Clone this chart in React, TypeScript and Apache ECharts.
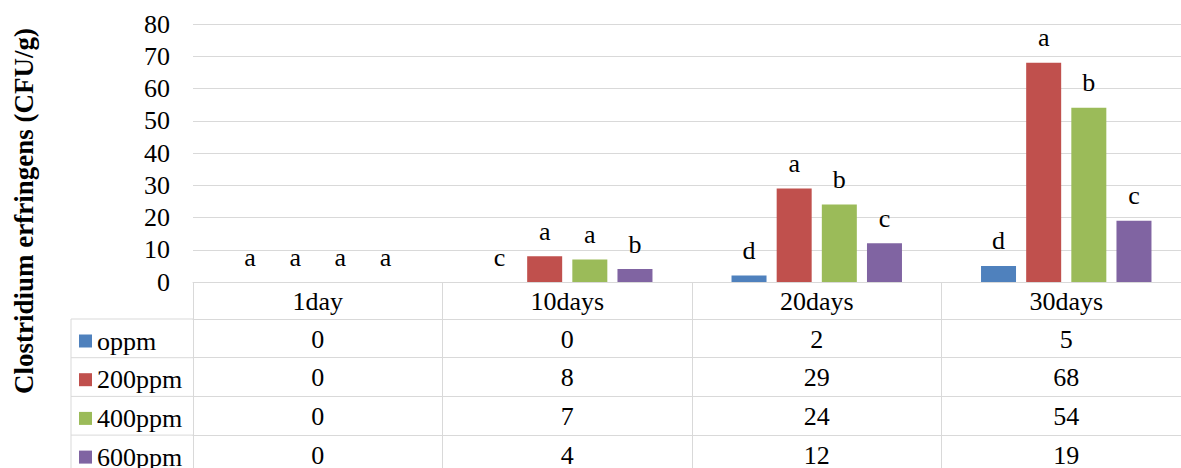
import React, { useEffect, useRef } from "react";
import * as echarts from "echarts";

const categories = ["1day", "10days", "20days", "30days"];
const seriesNames = ["oppm", "200ppm", "400ppm", "600ppm"];
const values0 = [0, 0, 2, 5];
const values200 = [0, 8, 29, 68];
const values400 = [0, 7, 24, 54];
const values600 = [0, 4, 12, 19];
const letters0 = ["a", "c", "d", "d"];
const letters200 = ["a", "a", "a", "a"];
const letters400 = ["a", "a", "b", "b"];
const letters600 = ["a", "b", "c", "c"];
const colors = ["#4f81bd", "#c0504d", "#9bbb59", "#8064a2"];

const allValues = [values0, values200, values400, values600];
const allLetters = [letters0, letters200, letters400, letters600];

const FONT = "Liberation Serif";
const FS = 26;
const GRID_COLOR = "#d9d9d9";
const AXIS_Y = 282;
const HEADER_H = 37;
const ROW_H = 38.7;

export default function App() {
  const ref = useRef<HTMLDivElement>(null);
  useEffect(() => {
    document.body.style.margin = "0";
    const chart = echarts.init(ref.current!, null, { renderer: "svg" });

    const rowAxes = allValues.map((vals, i) => ({
      type: "category",
      data: categories,
      gridIndex: 0,
      position: "bottom",
      offset: HEADER_H + ROW_H * i,
      axisLine: { show: true, lineStyle: { color: GRID_COLOR, width: 1 } },
      axisTick: { show: true, interval: 0, length: ROW_H, lineStyle: { color: GRID_COLOR, width: 1 } },
      axisLabel: {
        interval: 0,
        margin: 10,
        fontSize: FS,
        lineHeight: 20,
        color: "#000",
        fontFamily: FONT,
        formatter: (_v: string, idx: number) => String(vals[idx]),
      },
      splitLine: { show: false },
    }));

    const legendLines: any[] = [];
    for (let i = 0; i < 4; i++) {
      const y = AXIS_Y + HEADER_H + ROW_H * i;
      legendLines.push({
        type: "line",
        shape: { x1: 71, y1: y, x2: 193, y2: y },
        style: { stroke: GRID_COLOR, lineWidth: 1 },
      });
    }
    legendLines.push({
      type: "line",
      shape: { x1: 71, y1: AXIS_Y + HEADER_H, x2: 71, y2: 470 },
      style: { stroke: GRID_COLOR, lineWidth: 1 },
    });

    const legends = seriesNames.map((name, i) => ({
      orient: "vertical",
      left: 79,
      top: AXIS_Y + HEADER_H + ROW_H * i + 9,
      padding: 0,
      itemWidth: 13,
      itemHeight: 13,
      itemTextGap: 7,
      icon: "rect",
      data: [name],
      textStyle: { fontSize: FS, color: "#000", fontFamily: FONT, lineHeight: 20 },
    }));

    chart.setOption({
      animation: false,
      textStyle: { fontFamily: FONT },
      color: colors,
      grid: {
        left: 193,
        width: 998,
        top: 24,
        bottom: 468 - AXIS_Y,
        containLabel: false,
        outerBoundsMode: "none",
      },
      legend: legends,
      xAxis: [
        {
          type: "category",
          data: categories,
          position: "bottom",
          axisLine: { show: true, lineStyle: { color: GRID_COLOR, width: 1 } },
          axisTick: { show: true, interval: 0, length: HEADER_H, lineStyle: { color: GRID_COLOR, width: 1 } },
          axisLabel: { interval: 0, margin: 6, fontSize: FS, lineHeight: FS, color: "#000", fontFamily: FONT },
        },
        ...rowAxes,
      ],
      yAxis: {
        type: "value",
        min: 0,
        max: 80,
        interval: 10,
        axisLine: { show: false },
        axisTick: { show: false },
        axisLabel: { margin: 23, fontSize: FS, color: "#000", fontFamily: FONT },
        splitLine: { lineStyle: { color: GRID_COLOR, width: 1 } },
      },
      graphic: [
        {
          type: "text",
          x: 24,
          y: 211,
          rotation: Math.PI / 2,
          style: {
            text: "Clostridium erfringens (CFU/g)",
            fontSize: 27,
            fontWeight: "bold",
            fontFamily: FONT,
            fill: "#000",
            textAlign: "center",
            textVerticalAlign: "middle",
          },
        },
        ...legendLines,
      ],
      series: allValues.map((vals, i) => ({
        name: seriesNames[i],
        type: "bar",
        data: vals,
        barWidth: 35,
        barGap: "29%",
        itemStyle: { color: colors[i] },
        label: {
          show: true,
          position: "top",
          distance: 12,
          fontSize: FS,
          lineHeight: FS,
          color: "#000",
          fontFamily: FONT,
          formatter: (p: any) => allLetters[i][p.dataIndex],
        },
      })),
    });
    return () => chart.dispose();
  }, []);
  return <div ref={ref} style={{ width: 1181, height: 468 }} />;
}
